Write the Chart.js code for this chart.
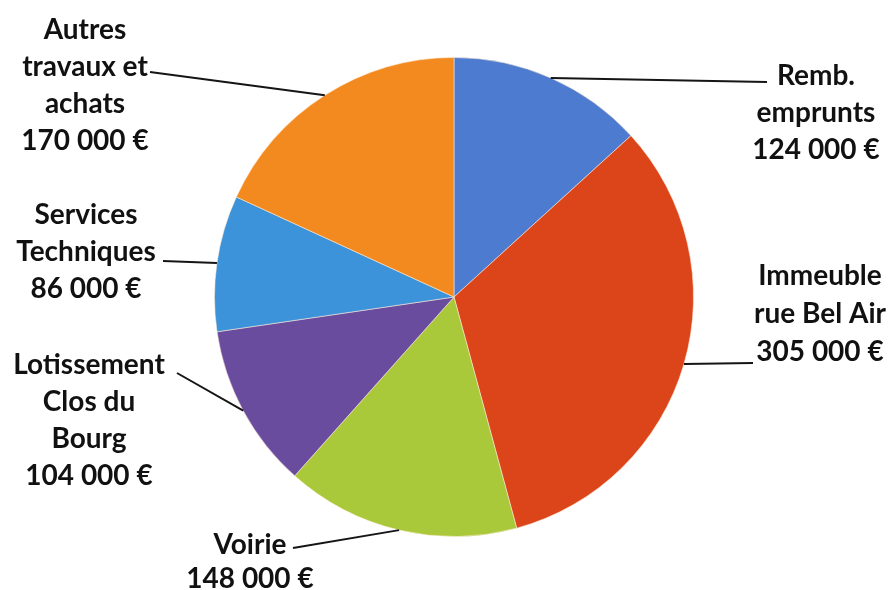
<!DOCTYPE html>
<html>
<head>
<meta charset="utf-8">
<script src="https://cdn.jsdelivr.net/npm/chart.js@4.4.0/dist/chart.umd.min.js"></script>
<style>
  html, body { margin: 0; padding: 0; background: #ffffff; }
  #wrap { width: 893px; height: 590px; }
</style>
</head>
<body>
<div id="wrap"><canvas id="pie" width="893" height="590"></canvas></div>
<script>
// Budget d'investissement : postes de dépense (montants en euros)
const categories = [
  "Remb. emprunts",
  "Immeuble rue Bel Air",
  "Voirie",
  "Lotissement Clos du Bourg",
  "Services Techniques",
  "Autres travaux et achats"
];
const amounts = [124000, 305000, 148000, 104000, 86000, 170000];
// Lignes de texte de chaque étiquette (le montant est ajouté à la fin)
const labelLines = [
  ["Remb.", "emprunts"],
  ["Immeuble", "rue Bel Air"],
  ["Voirie"],
  ["Lotissement", "Clos du", "Bourg"],
  ["Services", "Techniques"],
  ["Autres", "travaux et", "achats"]
];
const colors = ["#4d7bd0", "#dc4419", "#a9c93a", "#6a4c9f", "#3d93d9", "#f38a1f"];

// Mise en page des étiquettes : centre du bloc de texte, première ligne,
// interligne, extrémité du trait de rappel côté texte
const labelLayout = [
  { x: 816, y: 76,  lh: 37, end: [767, 82] },
  { x: 820, y: 276, lh: 38, end: [753, 363] },
  { x: 250, y: 545, lh: 34, end: [293, 548] },
  { x: 89,  y: 365, lh: 37, end: [177, 373] },
  { x: 86,  y: 215, lh: 37, end: [163, 261] },
  { x: 85,  y: 30,  lh: 37, end: [150, 72] }
];

function euro(v) {
  return v.toLocaleString("fr-FR").replace(/\s/g, " ") + " €";
}

const calloutPlugin = {
  id: "callouts",
  afterDraw(chart) {
    const ctx = chart.ctx;
    const meta = chart.getDatasetMeta(0);
    ctx.save();
    meta.data.forEach((arc, i) => {
      const p = arc.getProps(["x", "y", "startAngle", "endAngle", "outerRadius"], true);
      const mid = (p.startAngle + p.endAngle) / 2;
      const sx = p.x + Math.cos(mid) * p.outerRadius;
      const sy = p.y + Math.sin(mid) * p.outerRadius;
      const L = labelLayout[i];
      ctx.strokeStyle = "#151515";
      ctx.lineWidth = 2;
      ctx.beginPath();
      ctx.moveTo(sx, sy);
      ctx.lineTo(L.end[0], L.end[1]);
      ctx.stroke();

      const lines = labelLines[i].concat([euro(amounts[i])]);
      ctx.fillStyle = "#111111";
      ctx.font = "bold 28px Lato, 'Open Sans', sans-serif";
      ctx.textAlign = "center";
      ctx.textBaseline = "middle";
      lines.forEach((t, k) => ctx.fillText(t, L.x, L.y + k * L.lh));
    });
    ctx.restore();
  }
};

new Chart(document.getElementById("pie"), {
  type: "pie",
  data: {
    labels: categories,
    datasets: [{
      data: amounts,
      backgroundColor: colors,
      borderColor: "rgba(255,235,215,0.55)",
      borderWidth: 1
    }]
  },
  options: {
    responsive: false,
    animation: false,
    rotation: 0,
    layout: { padding: { top: 57, bottom: 53, left: 214, right: 199 } },
    plugins: {
      legend: { display: false },
      tooltip: { enabled: false }
    }
  },
  plugins: [calloutPlugin]
});
</script>
</body>
</html>
